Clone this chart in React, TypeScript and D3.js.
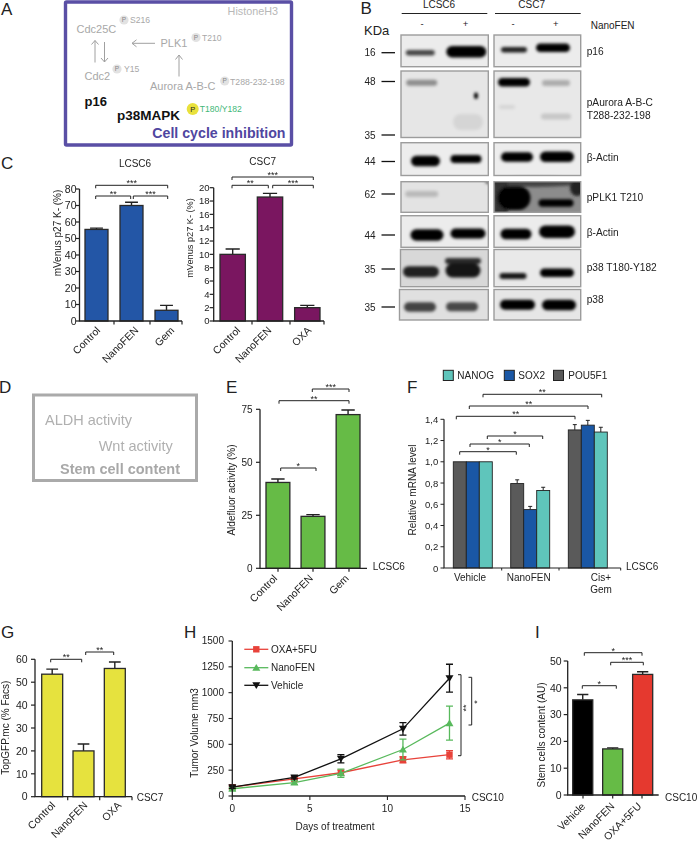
import React from "react";
import * as d3 from "d3";

// ---------- DATA ----------
const catsC1 = ["Control", "NanoFEN", "Gem"];
const valsC1 = [55.5, 70, 6.5];
const errC1 = [0.8, 2, 3];
const catsC2 = ["Control", "NanoFEN", "OXA"];
const valsC2 = [10, 18.6, 2];
const errC2 = [0.8, 0.55, 0.35];
const catsE = ["Control", "NanoFEN", "Gem"];
const valsE = [40.5, 24.5, 72.5];
const errE = [1.6, 0.8, 2.2];
const catsF = ["Vehicle", "NanoFEN", "Cis+"];
const seriesF = ["POU5F1", "SOX2", "NANOG"];
const valsFPou = [1, 0.795, 1.3];
const valsFSox = [1, 0.55, 1.345];
const valsFNan = [1, 0.73, 1.28];
const errFPou = [0, 0.035, 0.05];
const errFSox = [0, 0.03, 0.045];
const errFNan = [0, 0.03, 0.045];
const catsG = ["Control", "NanoFEN", "OXA"];
const valsG = [53.5, 20, 56];
const errG = [2.2, 3, 2.8];
const days = [0, 4, 7, 11, 14];
const hOxa = [85, 165, 225, 350, 400];
const hOxaErr = [15, 15, 25, 30, 40];
const hNano = [70, 130, 220, 450, 705];
const hNanoErr = [12, 18, 40, 100, 165];
const hVeh = [85, 180, 360, 650, 1140];
const hVehErr = [12, 15, 40, 60, 135];
const hYTicks = [0, 250, 500, 750, 1000, 1250, 1500];
const catsI = ["Vehicle", "NanoFEN", "OXA+5FU"];
const valsI = [35.5, 17.2, 45];
const errI = [2, 0.4, 1];

const blotNames = ["p16", "β-Actin", "pPLK1 T210", "β-Actin", "p38 T180-Y182", "p38"];
const kdaLabels = ["16", "48", "35", "44", "62", "44", "35", "35"];
const bandDarkness = [
  0.7, 1, 0.85, 1, // p16
  0.38, 1, 0.25, 0.14, 0.08, 0.07, // pAurora
  1, 1, 1, 1, // actin
  0.18, 1, 1, // pPLK1
  1, 1, 1, 1, // actin
  0.85, 0.8, 0.9, 0.9, 1, // p38 phospho
  0.7, 0.68, 1, 1, // p38
];

// ---------- LAYOUT ----------
const bandBoxes = [
  [420.3, 52.7, 29, 5.5], [466.3, 51.7, 40, 11.5], [514, 49.7, 26, 5.5], [553, 47.7, 34, 8.5],
  [421.7, 82.7, 31, 6], [514, 82.3, 32, 8.5], [556, 83, 28, 6], [556, 116.5, 30, 6], [507, 107, 16, 4], [468, 122, 30, 16],
  [425.5, 161, 29, 10.5], [466, 159, 31, 8], [517, 157, 32, 9.5], [557, 156.7, 34, 10.5],
  [421.7, 194, 33, 6], [514, 198, 33, 24], [556, 203, 35, 7.5],
  [427, 235, 33, 11.5], [468, 233.5, 35, 10], [516, 234, 31, 10.5], [557, 231.7, 36, 12.5],
  [421, 271.7, 36, 11], [463, 261, 36, 6], [463, 270.5, 35, 14], [513, 276, 27, 6], [557, 272.7, 34, 8.5],
  [420, 307, 32, 9.5], [462, 306.7, 32, 9], [517.5, 304.7, 35, 10], [559, 305, 34, 10.5],
];
const blotRows = [
  { y0: 35, y1: 66.7, bgL: "#ececec", bgR: "#ececec", x0: 401 },
  { y0: 71, y1: 137.5, bgL: "#e6e6e6", bgR: "#e8e8e8", x0: 401 },
  { y0: 142.7, y1: 175.5, bgL: "#ededed", bgR: "#ededed", x0: 401 },
  { y0: 181.7, y1: 212.3, bgL: "#e3e3e3", bgR: "#8c8c8c", x0: 401 },
  { y0: 215.7, y1: 247.3, bgL: "#ececec", bgR: "#ececec", x0: 401 },
  { y0: 249.5, y1: 286.7, bgL: "#d8d8d8", bgR: "#e9e9e9", x0: 400.5 },
  { y0: 289.5, y1: 320, bgL: "#e0e0e0", bgR: "#e6e6e6", x0: 399.5 },
];
const kdaY = [52.7, 81.5, 135, 161.5, 194, 235, 269, 307];
const FONT = "'Liberation Sans', Arial, sans-serif";
const INK = "#222";

type Bracket = { x0: number; x1: number; y: number; s: string };
const T = (p: any) => <text fontFamily={FONT} fill={INK} {...p} />;

function Brackets({ items }: { items: Bracket[] }) {
  return (
    <g>
      {items.map((b, i) => (
        <g key={i}>
          <path d={`M${b.x0},${b.y + 3}V${b.y}H${b.x1}V${b.y + 3}`} fill="none" stroke="#222" strokeWidth={1} />
          <text x={(b.x0 + b.x1) / 2} y={b.y + 0.8} fontSize={9} textAnchor="middle" fontFamily={FONT} fill="#222">{b.s}</text>
        </g>
      ))}
    </g>
  );
}

type BarProps = {
  cats: string[]; vals: number[]; errs: number[]; colors: string[];
  x0: number; barL: number; barR: number; axisEnd: number; y0: number; y1: number; vmax: number; tickVals: number[];
  ticksAt: number[]; labelEnds: number[]; labelY: number; fs: number; lfs: number; tickR: number;
  ylabel: string; ylx: number; yly: number; ylfs: number; gap: number;
};
function BarPanel(p: BarProps) {
  const y = d3.scaleLinear().domain([0, p.vmax]).range([p.y0, p.y1]);
  const x = d3.scaleBand().domain(p.cats).range([p.barL, p.barR]).paddingInner(p.gap);
  const bw = x.bandwidth();
  return (
    <g>
      {p.cats.map((c, i) => {
        const cx = x(c)! + bw / 2;
        const top = y(p.vals[i]);
        const et = y(p.vals[i] + p.errs[i]);
        return (
          <g key={c}>
            <path d={`M${cx},${top}V${et}M${cx - bw * 0.28},${et}H${cx + bw * 0.28}`} stroke="#222" strokeWidth={1.4} fill="none" />
            <rect x={x(c)} y={top} width={bw} height={p.y0 - top} fill={p.colors[i % p.colors.length]} stroke="#2a2a2a" strokeWidth={1.3} />
          </g>
        );
      })}
      <path d={`M${p.x0},${p.y1}V${p.y0}H${p.axisEnd}`} fill="none" stroke="#222" strokeWidth={1.3} />
      {p.tickVals.map((t) => (
        <g key={t}>
          <path d={`M${p.x0 - 4},${y(t)}H${p.x0}`} stroke="#222" strokeWidth={1.2} />
          <T x={p.tickR} y={y(t) + p.fs * 0.36} fontSize={p.fs} textAnchor="end">{t}</T>
        </g>
      ))}
      {p.ticksAt.map((t) => <path key={t} d={`M${t},${p.y0}v3.5`} stroke="#222" strokeWidth={1.2} />)}
      {p.cats.map((c, i) => (
        <T key={c} fontSize={p.lfs} textAnchor="end" transform={`translate(${p.labelEnds[i]},${p.labelY}) rotate(-45)`}>{c}</T>
      ))}
      <T fontSize={p.ylfs} textAnchor="middle" transform={`translate(${p.ylx},${p.yly}) rotate(-90)`}>{p.ylabel}</T>
    </g>
  );
}

function PanelA() {
  const g = "#a8a8a8";
  const Pc = ({ x, y }: { x: number; y: number }) => (
    <g>
      <circle cx={x} cy={y} r={4.6} fill="#e2e2e2" />
      <text x={x} y={y + 2.4} fontSize={6.5} textAnchor="middle" fill="#888" fontFamily={FONT}>P</text>
    </g>
  );
  const Arrow = ({ d }: { d: string }) => <path d={d} fill="none" stroke="#a0a0a0" strokeWidth={1} />;
  return (
    <g>
      <rect x={65.5} y={2} width={226} height={143} fill="#fff" stroke="#5a4fa5" strokeWidth={3.4} rx={1} />
      <text x={278} y={15} fontSize={10.8} textAnchor="end" fill="#b8b8b8" fontFamily={FONT}>HistoneH3</text>
      <text x={76.5} y={32.5} fontSize={11} fill={g} fontFamily={FONT}>Cdc25C</text>
      <Pc x={124} y={20} />
      <text x={130} y={23} fontSize={8.6} fill={g} fontFamily={FONT}>S216</text>
      <text x={160.5} y={47} fontSize={11} fill={g} fontFamily={FONT}>PLK1</text>
      <Pc x={196} y={37.5} />
      <text x={202} y={40.5} fontSize={8.6} fill={g} fontFamily={FONT}>T210</text>
      <text x={84.5} y={79.5} fontSize={11} fill={g} fontFamily={FONT}>Cdc2</text>
      <Pc x={117} y={69} />
      <text x={124} y={71.5} fontSize={8.6} fill={g} fontFamily={FONT}>Y15</text>
      <text x={150} y={89.5} fontSize={11} fill={g} fontFamily={FONT}>Aurora A-B-C</text>
      <Pc x={224.7} y={81} />
      <text x={230} y={84.5} fontSize={8.7} fill={g} fontFamily={FONT}>T288-232-198</text>
      <Arrow d="M95,62.5V40.5M91.5,44.5L95,40.5L98.5,44.5" />
      <Arrow d="M104.5,42V62M101,58L104.5,62L108,58" />
      <Arrow d="M155,43.3H132M136.5,39.8L132,43.3L136.5,46.8" />
      <Arrow d="M179,76.5V55M175.5,59.5L179,55L182.5,59.5" />
      <text x={84.5} y={106} fontSize={13} fontWeight="bold" fill="#111" fontFamily={FONT}>p16</text>
      <text x={117} y={119.5} fontSize={13.5} fontWeight="bold" fill="#111" fontFamily={FONT}>p38MAPK</text>
      <circle cx={192.7} cy={109} r={6} fill="#e9e13c" />
      <text x={192.7} y={112} fontSize={7.5} textAnchor="middle" fill="#222" fontFamily={FONT}>P</text>
      <text x={199.8} y={112} fontSize={8.6} fill="#3fb878" fontFamily={FONT}>T180/Y182</text>
      <text x={285.5} y={137.5} fontSize={14.2} fontWeight="bold" textAnchor="end" fill="#4f46a0" fontFamily={FONT}>Cell cycle inhibition</text>
    </g>
  );
}

function PanelB() {
  return (
    <g>
      <T x={439} y={8} fontSize={10} textAnchor="middle">LCSC6</T>
      <T x={531.7} y={8} fontSize={10} textAnchor="middle">CSC7</T>
      <path d="M401.7,13.5H487.3M495,13.5H580.7" stroke="#222" strokeWidth={1} />
      {["-", "+", "-", "+"].map((s, i) => (
        <T key={i} x={[422, 465.5, 513, 555.7][i]} y={27} fontSize={9.5} textAnchor="middle">{s}</T>
      ))}
      <T x={590.7} y={29} fontSize={10}>NanoFEN</T>
      <T x={364} y={35} fontSize={13}>KDa</T>
      <g>
        {blotRows.map((r, i) => (
          <g key={i}>
            <rect x={r.x0} y={r.y0} width={488.3 - r.x0} height={r.y1 - r.y0} fill={r.bgL} />
            <rect x={494} y={r.y0} width={86.7} height={r.y1 - r.y0} fill={r.bgR} />
          </g>
        ))}
      </g>
      <g clipPath="url(#blotClip)">
        <g filter="url(#bandBlur)">
          <ellipse cx={535} cy={182} rx={50} ry={5} fill="#444" />
          <ellipse cx={577} cy={188} rx={7} ry={8} fill="#222" />
          <rect x={494} y={180} width={14} height={34} fill="#333" />
          {bandBoxes.map((b, i) => (
            <rect key={i} x={b[0] - b[2] / 2} y={b[1] - b[3] / 2} width={b[2]} height={b[3]} rx={b[3] / 2} fill="#000" opacity={bandDarkness[i]} />
          ))}
          <ellipse cx={476} cy={95.7} rx={2} ry={3.2} fill="#000" />
        </g>
      </g>
      {blotRows.map((r, i) => (
        <g key={i} fill="none" stroke="#9c9c9c" strokeWidth={1.4}>
          <rect x={r.x0} y={r.y0} width={488.3 - r.x0} height={r.y1 - r.y0} />
          <rect x={494} y={r.y0} width={86.7} height={r.y1 - r.y0} />
        </g>
      ))}
      {kdaLabels.map((k, i) => (
        <g key={i}>
          <T x={375.5} y={kdaY[i] + 3.6} fontSize={10} textAnchor="end">{k}</T>
          <path d={`M381.5,${kdaY[i]}H395`} stroke="#111" strokeWidth={1.3} />
        </g>
      ))}
      <T x={586.7} y={54.5} fontSize={10.2}>{blotNames[0]}</T>
      <T x={586.7} y={106} fontSize={10.2}>pAurora A-B-C</T>
      <T x={586.7} y={118.5} fontSize={10.2}>T288-232-198</T>
      <T x={586.7} y={160.5} fontSize={10.2}>{blotNames[1]}</T>
      <T x={586.7} y={201} fontSize={10.2}>{blotNames[2]}</T>
      <T x={586.7} y={235.5} fontSize={10.2}>{blotNames[3]}</T>
      <T x={586.7} y={270.5} fontSize={10.2}>{blotNames[4]}</T>
      <T x={586.7} y={303} fontSize={10.2}>{blotNames[5]}</T>
    </g>
  );
}

function PanelF() {
  const y = d3.scaleLinear().domain([0, 1.4]).range([568, 419.3]);
  const x0 = d3.scaleOrdinal<string, number>().domain(catsF).range([453.3, 510.7, 568.3]);
  const x1 = d3.scaleBand().domain(seriesF).range([0, 39]);
  const vals = [valsFPou, valsFSox, valsFNan];
  const errs = [errFPou, errFSox, errFNan];
  const cols = ["#5a5a5a", "#1a57a5", "#5fc5bb"];
  const fmt = (v: number) => d3.format(".1f")(v).replace(".", ",");
  return (
    <g>
      {[["NANOG", 443.3, 457.3, cols[2]], ["SOX2", 504.3, 518.3, cols[1]], ["POU5F1", 553.5, 568.3, cols[0]]].map((l: any) => (
        <g key={l[0]}>
          <rect x={l[1]} y={370.3} width={10} height={10.2} fill={l[3]} stroke="#222" strokeWidth={1} />
          <T x={l[2]} y={379} fontSize={10}>{l[0]}</T>
        </g>
      ))}
      {seriesF.map((s, si) =>
        catsF.map((c, ci) => {
          const xx = x0(c) + x1(s)!;
          const w = x1.bandwidth();
          const t = y(vals[si][ci]);
          const e = y(vals[si][ci] + errs[si][ci]);
          return (
            <g key={s + c}>
              {errs[si][ci] > 0 && <path d={`M${xx + w / 2},${t}V${e}M${xx + w / 2 - 2},${e}h4`} stroke="#222" strokeWidth={1} fill="none" />}
              <rect x={xx} y={t} width={w} height={568 - t} fill={cols[si]} stroke="#222" strokeWidth={0.9} />
            </g>
          );
        })
      )}
      <path d="M444,419.3V568H620.7" fill="none" stroke="#222" strokeWidth={1.2} />
      {d3.range(0, 8).map((i) => {
        const v = i * 0.2;
        return (
          <g key={i}>
            <path d={`M440.5,${y(v)}H444`} stroke="#222" strokeWidth={1} />
            <T x={438.3} y={y(v) + 3.5} fontSize={9.5} textAnchor="end">{i === 0 ? "0" : fmt(v)}</T>
          </g>
        );
      })}
      {[501.7, 559, 620.7].map((t) => <path key={t} d={`M${t},568v2.5`} stroke="#222" strokeWidth={1} />)}
      <T x={470} y={581} fontSize={10} textAnchor="middle">Vehicle</T>
      <T x={528.7} y={581} fontSize={10} textAnchor="middle">NanoFEN</T>
      <T x={601} y={581} fontSize={10} textAnchor="middle">Cis+</T>
      <T x={601} y={593} fontSize={10} textAnchor="middle">Gem</T>
      <T x={626} y={569.5} fontSize={10}>LCSC6</T>
      <T fontSize={10} textAnchor="middle" transform={`translate(416,490) rotate(-90)`}>Relative mRNA level</T>
      <Brackets items={[
        { x0: 483, x1: 601.7, y: 394.3, s: "**" },
        { x0: 469.3, x1: 588, y: 406, s: "**" },
        { x0: 456.3, x1: 575, y: 416.3, s: "**" },
        { x0: 487.3, x1: 542.7, y: 436, s: "*" },
        { x0: 470, x1: 529.3, y: 444, s: "*" },
        { x0: 459.7, x1: 516.3, y: 451.7, s: "*" },
      ]} />
    </g>
  );
}

function PanelH() {
  const x = d3.scaleLinear().domain([0, 15]).range([232.3, 465]);
  const y = d3.scaleLinear().domain([0, 1500]).range([796, 641]);
  const series = [
    { name: "OXA+5FU", v: hOxa, e: hOxaErr, c: "#e8423a", m: "sq", ly: 649.3 },
    { name: "NanoFEN", v: hNano, e: hNanoErr, c: "#58b95c", m: "up", ly: 667.7 },
    { name: "Vehicle", v: hVeh, e: hVehErr, c: "#111", m: "down", ly: 685.3 },
  ];
  const line = d3.line<number>().x((_, i) => x(days[i])).y((d) => y(d));
  const mk = (m: string, cx: number, cy: number, c: string) => {
    if (m === "sq") return <rect x={cx - 3.2} y={cy - 3.2} width={6.4} height={6.4} fill={c} />;
    const s = m === "up" ? -1 : 1;
    return <path d={`M${cx - 4},${cy - s * 3}H${cx + 4}L${cx},${cy + s * 3.8}Z`} fill={c} />;
  };
  return (
    <g>
      {series.map((s) => (
        <g key={s.name}>
          {s.v.map((v, i) => (
            <path key={i} d={`M${x(days[i])},${y(v - s.e[i])}V${y(v + s.e[i])}M${x(days[i]) - 3.5},${y(v - s.e[i])}h7M${x(days[i]) - 3.5},${y(v + s.e[i])}h7`} stroke={s.c} strokeWidth={1.3} fill="none" />
          ))}
          <path d={line(s.v)!} fill="none" stroke={s.c} strokeWidth={1.3} />
          {s.v.map((v, i) => <g key={i}>{mk(s.m, x(days[i]), y(v), s.c)}</g>)}
          <path d={`M244.3,${s.ly}H268.3`} stroke={s.c} strokeWidth={1.3} />
          {mk(s.m, 256.3, s.ly, s.c)}
          <T x={271} y={s.ly + 3.5} fontSize={10}>{s.name}</T>
        </g>
      ))}
      <path d="M232.3,641V796H465" fill="none" stroke="#222" strokeWidth={1.3} />
      {hYTicks.map((t) => (
        <g key={t}>
          <path d={`M228.5,${y(t)}H232.3`} stroke="#222" strokeWidth={1.1} />
          <T x={224} y={y(t) + 3.4} fontSize={10} textAnchor="end">{t}</T>
        </g>
      ))}
      {x.ticks(3).map((t) => (
        <g key={t}>
          <path d={`M${x(t)},796v4`} stroke="#222" strokeWidth={1.1} />
          <T x={x(t)} y={812} fontSize={10} textAnchor="middle">{t}</T>
        </g>
      ))}
      <T x={335} y={830} fontSize={10} textAnchor="middle">Days of treatment</T>
      <T x={471.7} y={801} fontSize={10}>CSC10</T>
      <T fontSize={10} textAnchor="middle" transform="translate(198,733) rotate(-90)">Tumor Volume mm3</T>
      <path d="M458,674.7H461V755.7H458M468.5,677.3H471.7V725H468.5" fill="none" stroke="#222" strokeWidth={1} />
      <T fontSize={9} textAnchor="middle" transform="translate(468.5,708) rotate(-90)">**</T>
      <T fontSize={9} textAnchor="middle" transform="translate(479.5,702) rotate(-90)">*</T>
    </g>
  );
}

export default function App() {
  return (
    <svg width={698} height={843} viewBox="0 0 698 843" style={{ position: "absolute", left: 0, top: 0, background: "#fff" }}>
      <defs>
        <filter id="bandBlur" x="-10%" y="-10%" width="120%" height="120%"><feGaussianBlur stdDeviation={1.5} /></filter>
        <clipPath id="blotClip">
          {blotRows.map((r, i) => <rect key={"l" + i} x={r.x0} y={r.y0} width={488.3 - r.x0} height={r.y1 - r.y0} />)}
          {blotRows.map((r, i) => <rect key={"r" + i} x={494} y={r.y0} width={86.7} height={r.y1 - r.y0} />)}
        </clipPath>
      </defs>
      {[["A", 1, 14.7], ["B", 360.5, 14], ["C", 1, 169], ["D", -1, 392.7], ["E", 226, 392.7], ["F", 407, 393], ["G", 1, 638], ["H", 184, 638], ["I", 535, 638]].map((l: any) => (
        <T key={l[0]} x={l[1]} y={l[2]} fontSize={17}>{l[0]}</T>
      ))}
      <PanelA />
      <PanelB />

      {/* C */}
      <T x={135} y={166.5} fontSize={10} textAnchor="middle">LCSC6</T>
      <T x={262.7} y={165} fontSize={10} textAnchor="middle">CSC7</T>
      <BarPanel cats={catsC1} vals={valsC1} errs={errC1} colors={["#2356a6"]} x0={79.5} barL={85} barR={178} axisEnd={182} y0={321} y1={189} vmax={80}
        tickVals={d3.range(0, 81, 10)} ticksAt={[114, 150, 182]} labelEnds={[101, 139, 175]} labelY={331} fs={10.5} lfs={10.5} tickR={76.5}
        ylabel="mVenus p27 K- (%)" ylx={61} yly={233} ylfs={10} gap={0.343} />
      <Brackets items={[
        { x0: 95.7, x1: 167.7, y: 185.3, s: "***" },
        { x0: 95.7, x1: 130.7, y: 196, s: "**" },
        { x0: 133.3, x1: 167.7, y: 196, s: "***" },
      ]} />
      <BarPanel cats={catsC2} vals={valsC2} errs={errC2} colors={["#7a1660"]} x0={213.7} barL={220} barR={320} axisEnd={324} y0={321} y1={187.7} vmax={20}
        tickVals={d3.range(0, 21, 2)} ticksAt={[252, 290, 324]} labelEnds={[241, 272, 312]} labelY={331} fs={9.5} lfs={10.5} tickR={209.5}
        ylabel="mVenus p27 K- (%)" ylx={193} yly={238} ylfs={9.2} gap={0.32} />
      <Brackets items={[
        { x0: 232, x1: 313.3, y: 177, s: "***" },
        { x0: 232, x1: 268.3, y: 185.3, s: "**" },
        { x0: 272.7, x1: 313.3, y: 185.3, s: "***" },
      ]} />

      {/* D */}
      <rect x={33.5} y={395} width={163} height={85.5} fill="#fff" stroke="#aaa" strokeWidth={3} />
      <text x={45} y={424.7} fontSize={14.5} fill="#b0b0b0" fontFamily={FONT}>ALDH activity</text>
      <text x={98.7} y={450.7} fontSize={14.5} fill="#b0b0b0" fontFamily={FONT}>Wnt activity</text>
      <text x={60} y={474.3} fontSize={14.5} fontWeight="bold" fill="#a8a8a8" fontFamily={FONT}>Stem cell content</text>

      {/* E */}
      <BarPanel cats={catsE} vals={valsE} errs={errE} colors={["#66bb46"]} x0={260} barL={266} barR={360} axisEnd={367} y0={568.3} y1={409.3} vmax={75}
        tickVals={[0, 25, 50, 75]} ticksAt={[278, 313, 349]} labelEnds={[278, 313.5, 349.5]} labelY={579} fs={10} lfs={10.5} tickR={252.5}
        ylabel="Aldefluor activity (%)" ylx={235} yly={490} ylfs={10} gap={0.32} />
      <T x={372.7} y={570} fontSize={10}>LCSC6</T>
      <Brackets items={[
        { x0: 312.3, x1: 349, y: 389, s: "***" },
        { x0: 279, x1: 349, y: 400.7, s: "**" },
        { x0: 280.7, x1: 316, y: 468, s: "*" },
      ]} />

      <PanelF />

      {/* G */}
      <BarPanel cats={catsG} vals={valsG} errs={errG} colors={["#e6e23e"]} x0={35} barL={41.7} barR={125.3} axisEnd={132} y0={796.7} y1={659.3} vmax={60}
        tickVals={d3.range(0, 61, 10)} ticksAt={[67.7, 99.7, 132]} labelEnds={[56, 88, 122]} labelY={806} fs={10.5} lfs={10.5} tickR={27.7}
        ylabel="TopGFP.mc (% Facs)" ylx={9} yly={727.7} ylfs={10} gap={0.33} />
      <T x={136.7} y={801} fontSize={10}>CSC7</T>
      <Brackets items={[
        { x0: 50.7, x1: 81.7, y: 659.3, s: "**" },
        { x0: 85.7, x1: 113.7, y: 652, s: "**" },
      ]} />

      <PanelH />

      {/* I */}
      <BarPanel cats={catsI} vals={valsI} errs={errI} colors={["#000", "#66bb46", "#e5392f"]} x0={567.7} barL={572.7} barR={652.7} axisEnd={658.7} y0={795} y1={661} vmax={50}
        tickVals={d3.range(0, 51, 10)} ticksAt={[583, 612.7, 642]} labelEnds={[586, 615, 642]} labelY={807} fs={10.5} lfs={10.5} tickR={561.7}
        ylabel="Stem cells content (AU)" ylx={545} yly={735} ylfs={10} gap={0.33} />
      <T x={665} y={801} fontSize={10}>CSC10</T>
      <Brackets items={[
        { x0: 584.3, x1: 642, y: 652.7, s: "*" },
        { x0: 610.7, x1: 643.3, y: 662.3, s: "***" },
        { x0: 582.3, x1: 616.3, y: 685.7, s: "*" },
      ]} />
    </svg>
  );
}
